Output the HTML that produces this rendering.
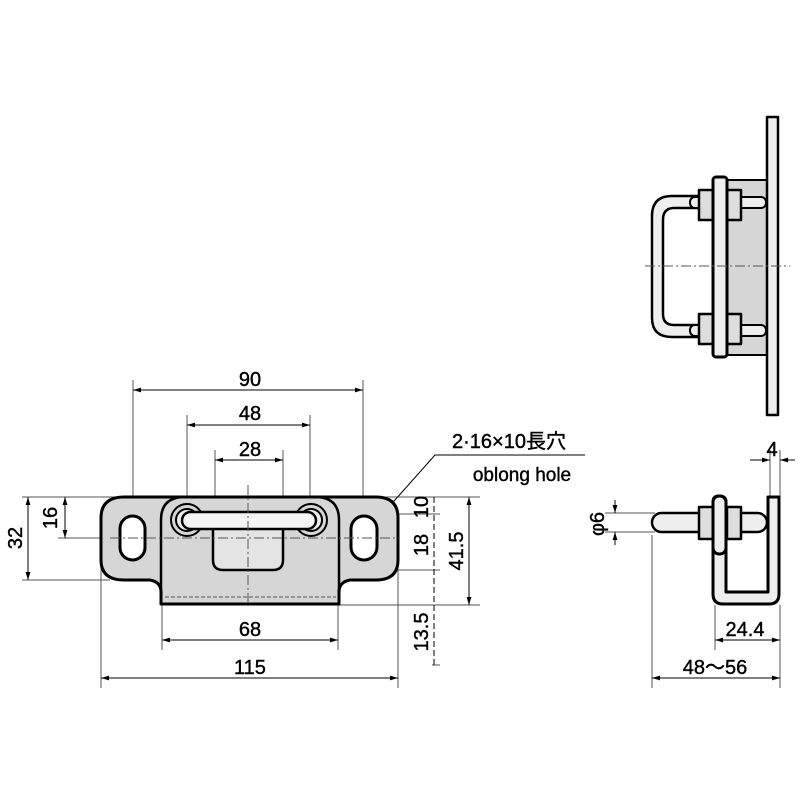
<!DOCTYPE html>
<html><head><meta charset="utf-8"><style>html,body{margin:0;padding:0;background:#fff}svg{display:block}</style></head>
<body>
<svg width="800" height="800" viewBox="0 0 800 800" xmlns="http://www.w3.org/2000/svg" font-family="Liberation Sans, Noto Sans CJK JP, sans-serif">
<defs>
<marker id="a" viewBox="0 0 10 10" refX="10" refY="5" markerWidth="8" markerHeight="8" orient="auto-start-reverse"><path d="M0,2 L10,5 L0,8z" fill="#000"/></marker>
</defs>
<g stroke="#555" stroke-width="1" fill="none">
<line x1="133" y1="380" x2="133" y2="540"/><line x1="363" y1="380" x2="363" y2="540"/>
<line x1="187" y1="415" x2="187" y2="520"/><line x1="310" y1="415" x2="310" y2="520"/>
<line x1="215" y1="450" x2="215" y2="520"/><line x1="283" y1="450" x2="283" y2="520"/>
<line x1="22" y1="497" x2="480" y2="497"/><line x1="22" y1="580" x2="110" y2="580"/>
<line x1="58" y1="538" x2="110" y2="538"/>
<line x1="162" y1="605" x2="162" y2="650"/><line x1="338" y1="605" x2="338" y2="650"/>
<line x1="101" y1="560" x2="101" y2="688"/><line x1="398" y1="560" x2="398" y2="688"/>
<line x1="338" y1="605" x2="480" y2="605"/>
<line x1="380" y1="514" x2="440" y2="514"/><line x1="280" y1="570" x2="440" y2="570"/>
<line x1="440" y1="665" x2="432" y2="665"/>
<line x1="770" y1="450" x2="770" y2="498"/><line x1="780" y1="450" x2="780" y2="498"/>
<line x1="605" y1="513" x2="655" y2="513"/><line x1="605" y1="532" x2="655" y2="532"/>
<line x1="652" y1="535" x2="652" y2="688"/><line x1="780" y1="605" x2="780" y2="688"/>
<line x1="715" y1="605" x2="715" y2="650"/>
</g>
<g stroke="#000" stroke-width="1" fill="none" marker-start="url(#a)" marker-end="url(#a)">
<line x1="133" y1="390" x2="363" y2="390"/>
<line x1="187" y1="425" x2="310" y2="425"/>
<line x1="215" y1="460" x2="283" y2="460"/>
<line x1="28" y1="497" x2="28" y2="580"/>
<line x1="65" y1="497" x2="65" y2="538"/>
<line x1="469" y1="497" x2="469" y2="605"/>
<line x1="162" y1="640" x2="338" y2="640"/>
<line x1="101" y1="678" x2="398" y2="678"/>
<line x1="715" y1="640" x2="780" y2="640"/>
<line x1="652" y1="678" x2="780" y2="678"/>
</g>
<line x1="434" y1="497" x2="434" y2="668" stroke="#000" stroke-dasharray="6 3"/>
<g stroke="#000" stroke-width="1" marker-end="url(#a)">
<line x1="615" y1="500" x2="615" y2="513"/><line x1="615" y1="545" x2="615" y2="532"/>
<line x1="750" y1="460" x2="770" y2="460"/><line x1="795" y1="460" x2="780" y2="460"/>
</g>
<polyline points="585,455 435,455 395,500 376,518" fill="none" stroke="#000" stroke-width="1" marker-end="url(#a)"/>
<g stroke="#000" stroke-width="3" stroke-linejoin="round">
<path d="M124,497 H376 Q398,497 398,518 V560 Q398,580 376,580 H350 Q339,582 339,592 V604 H161 V592 Q161,582 150,580 H124 Q101,580 101,560 V518 Q101,497 124,497Z" fill="#d6d6d6"/>
<path d="M161,604 V520 Q161,497 185,497 H315 Q339,497 339,520 V604" fill="none" stroke-width="2.5"/>
<rect x="120" y="516" width="25" height="44" rx="12.5" fill="#fff"/>
<rect x="351" y="516" width="26" height="44" rx="13" fill="#fff"/>
<path d="M213,530 V560 Q213,570 223,570 H273 Q283,570 283,560 V530" fill="#e4e4e4" stroke-width="2.5"/>
<circle cx="187" cy="520" r="16" fill="#d6d6d6" stroke-width="2"/>
<circle cx="187" cy="520" r="11" fill="#eee" stroke-width="2"/>
<circle cx="311" cy="520" r="16" fill="#d6d6d6" stroke-width="2"/>
<circle cx="311" cy="520" r="11" fill="#eee" stroke-width="2"/>
<rect x="182" y="512" width="134" height="17" rx="8.5" fill="#f4f4f4" stroke-width="2.5"/>
</g>
<line x1="165" y1="597" x2="336" y2="597" stroke="#555" stroke-dasharray="4 2"/>
<g stroke="#000" stroke-width="3" stroke-linejoin="round">
<rect x="726" y="180" width="42" height="175" fill="#d6d6d6" stroke-width="2"/>
<path d="M700,196 H672 Q652,196 652,216 V318 Q652,337 672,337 H700 V325 H674 Q663,325 663,314 V220 Q663,208 674,208 H700Z" fill="#eee" stroke-width="2.5"/>
<rect x="690" y="197" width="76" height="11" rx="5" fill="#eee" stroke-width="2"/>
<rect x="690" y="325" width="76" height="11" rx="5" fill="#eee" stroke-width="2"/>
<rect x="699" y="190" width="14" height="30" fill="#ddd" stroke-width="2.5"/>
<rect x="727" y="190" width="14" height="30" fill="#ddd" stroke-width="2.5"/>
<rect x="699" y="314" width="14" height="30" fill="#ddd" stroke-width="2.5"/>
<rect x="727" y="314" width="14" height="30" fill="#ddd" stroke-width="2.5"/>
<rect x="713" y="177" width="14" height="180" rx="3" fill="#eee"/>
<rect x="767" y="117" width="11" height="298" fill="#eee" stroke-width="2.5"/>
</g>
<g stroke="#000" stroke-width="3" stroke-linejoin="round">
<path d="M713,502 Q713,496 719,496 Q726,496 726,502 V592 H768 V497 H779 V594 Q779,604 769,604 H723 Q713,604 713,594Z" fill="#eee"/>
<rect x="652" y="513" width="115" height="19" rx="9.5" fill="#eee" stroke-width="2.5"/>
<rect x="699" y="507" width="14" height="32" fill="#ddd" stroke-width="2.5"/>
<rect x="727" y="507" width="14" height="32" fill="#ddd" stroke-width="2.5"/>
<rect x="713" y="496" width="13" height="58" rx="6" fill="#eee"/>
</g>
<g stroke="#555" stroke-width="1" fill="none" stroke-dasharray="10 3 2 3">
<line x1="248" y1="485" x2="248" y2="605"/>
<line x1="110" y1="538" x2="400" y2="538"/>
<line x1="645" y1="266" x2="790" y2="266"/>
<line x1="120" y1="505" x2="120" y2="505"/>
</g>
<g font-size="20" fill="#000" text-anchor="middle" stroke="#000" stroke-width="0.4">
<text x="250" y="386">90</text>
<text x="250" y="420">48</text>
<text x="250" y="456">28</text>
<text x="250" y="636">68</text>
<text x="250" y="674">115</text>
<text x="745" y="636">24.4</text>
<text x="715" y="674">48〜56</text>
<text x="772" y="456">4</text>
<text transform="translate(22,538) rotate(-90)">32</text>
<text transform="translate(57,518) rotate(-90)">16</text>
<text transform="translate(428,507) rotate(-90)">10</text>
<text transform="translate(428,545) rotate(-90)">18</text>
<text transform="translate(463,551) rotate(-90)">41.5</text>
<text transform="translate(428,632) rotate(-90)">13.5</text>
<text transform="translate(604,524) rotate(-90)">φ6</text>
<text x="509" y="448" font-size="20">2·16×10長穴</text>
<text x="522" y="481" font-size="19">oblong hole</text>
</g>
</svg>
</body></html>
